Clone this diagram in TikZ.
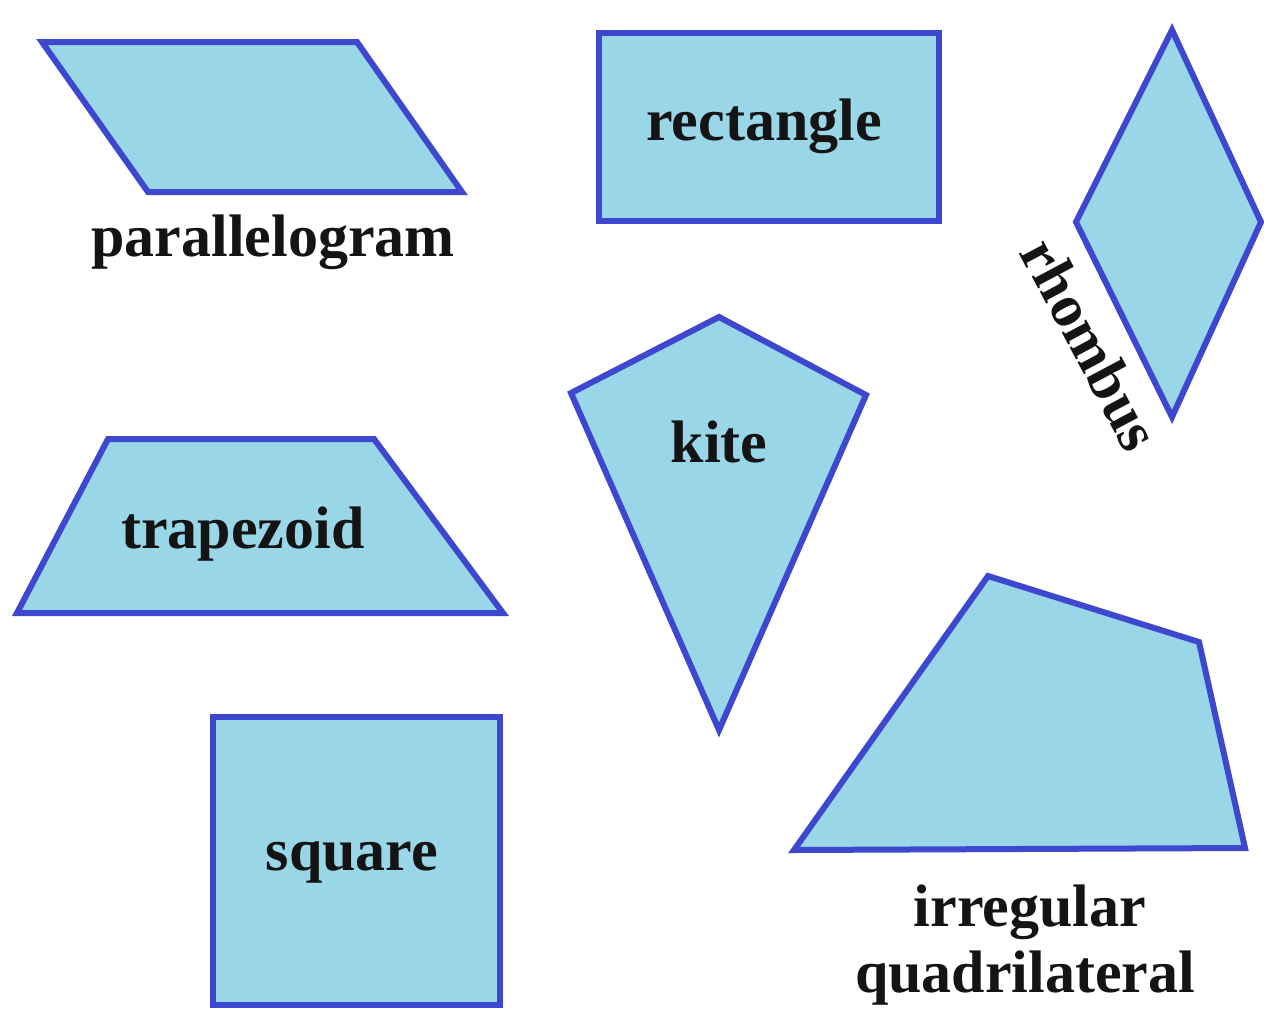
\documentclass[tikz,border=0pt]{standalone}
\usepackage{fontspec}
\setmainfont{Liberation Serif}
\definecolor{shapefill}{RGB}{152,214,232}
\definecolor{shapeline}{RGB}{62,72,206}
\definecolor{txt}{RGB}{20,20,20}
\begin{document}
\begin{tikzpicture}[x=1pt,y=-1pt,
  quad/.style={draw=shapeline,fill=shapefill,line width=6pt,line join=miter},
  lbl/.style={text=txt,font=\bfseries\fontsize{60}{64}\selectfont,inner sep=0pt,align=center}]
\useasboundingbox[fill=white] (0,0) rectangle (1264,1010);
% parallelogram
\draw[quad] (42,42) -- (357,42) -- (462,192) -- (148,192) -- cycle;
\node[lbl] (tpar) at (273,242) {parallelogram};
% rectangle
\draw[quad] (599,33) rectangle (939,221);
\node[lbl] (trect) at (764,126) {rectangle};
% rhombus
\draw[quad] (1172,30) -- (1261,222) -- (1172,417) -- (1076,222) -- cycle;
\node[lbl,rotate=-62] (trhomb) at (1091,344) {rhombus};
% kite
\draw[quad] (719,317) -- (866,395) -- (719,730) -- (571,393) -- cycle;
\node[lbl] (tkite) at (719,442) {kite};
% trapezoid
\draw[quad] (108,439) -- (374,439) -- (503,613) -- (17,613) -- cycle;
\node[lbl] (ttrap) at (243,534) {trapezoid};
% square
\draw[quad] (213,717) rectangle (500,1005);
\node[lbl] (tsq) at (352,862) {square};
% irregular quadrilateral
\draw[quad] (988,576) -- (1199,642) -- (1245,848) -- (794,850) -- cycle;
\node[lbl] (tirr1) at (1030,912) {irregular};
\node[lbl] (tirr2) at (1025,978) {quadrilateral};
\end{tikzpicture}
\end{document}
